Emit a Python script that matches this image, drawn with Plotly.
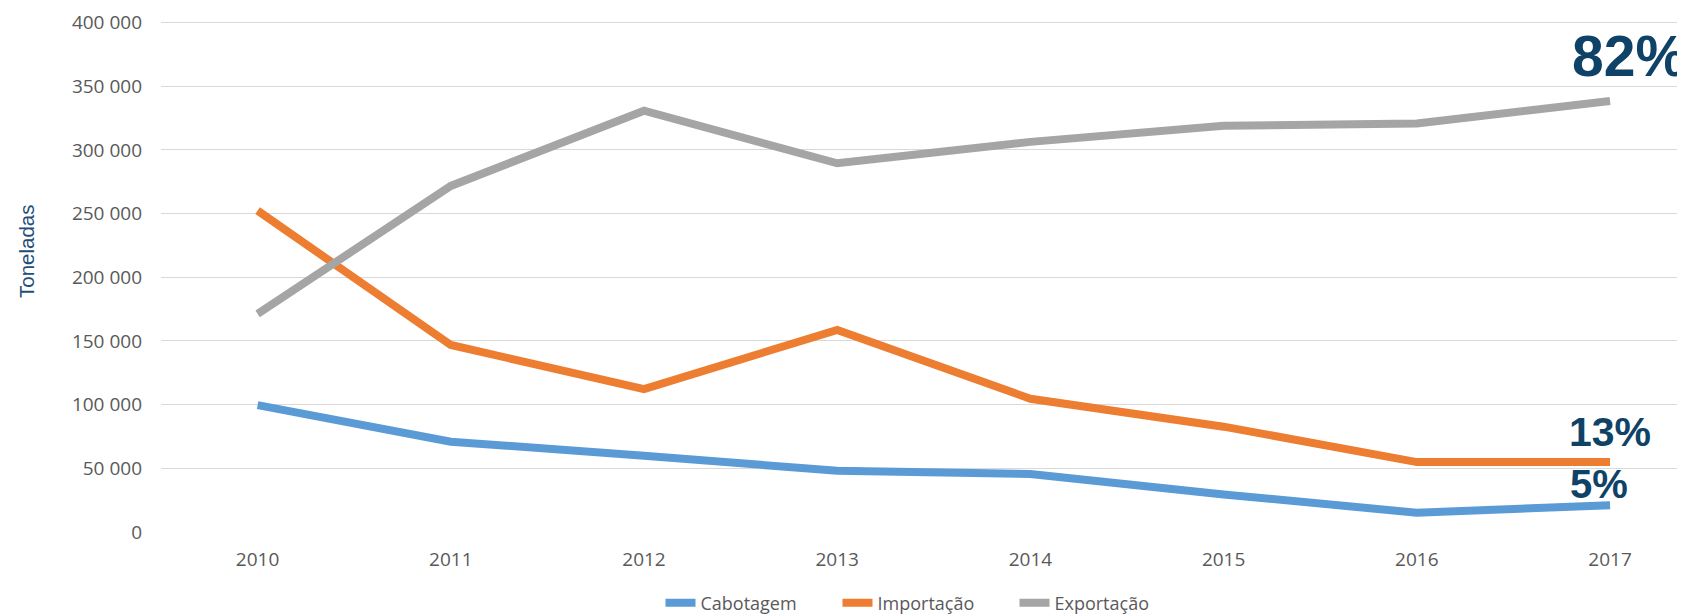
import plotly.graph_objects as go

years = ["2010", "2011", "2012", "2013", "2014", "2015", "2016", "2017"]
cabotagem = [99600, 70900, 59900, 48100, 45600, 29500, 15200, 21100]
importacao = [252300, 146800, 112200, 158700, 104600, 82700, 54900, 54900]
exportacao = [171300, 271700, 330800, 289500, 306300, 319000, 320700, 338400]
series_names = ["Cabotagem", "Importação", "Exportação"]
series_colors = ["#5B9BD5", "#ED7D31", "#A5A5A5"]
share_labels = ["5%", "13%", "82%"]
y_ticks = [0, 50000, 100000, 150000, 200000, 250000, 300000, 350000, 400000]
y_tick_text = ["0", "50 000", "100 000", "150 000", "200 000", "250 000", "300 000", "350 000", "400 000"]

# page body has an 8px margin, so the figure is drawn 8px in from the corner
W, H = 1677, 608
ML, MR, MT, MB = 153, 0, 13, 84

fig = go.Figure()
for name, vals, col in zip(series_names, [cabotagem, importacao, exportacao], series_colors):
    fig.add_trace(go.Scatter(x=years, y=vals, mode="lines", name=name,
                             line=dict(color=col, width=8)))

navy = "#0F4267"
last_idx = len(years) - 1
ann_specs = [
    (share_labels[0], cabotagem[-1], 40, -11, 21),
    (share_labels[1], importacao[-1], 41, 0, 30),
    (share_labels[2], exportacao[-1], 57, 19, 45),
]
for txt, yv, size, dx, dy in ann_specs:
    fig.add_annotation(x=last_idx, y=yv, xref="x", yref="y", text=f"<b>{txt}</b>",
                       showarrow=False, xanchor="center", yanchor="middle",
                       xshift=dx, yshift=dy,
                       font=dict(family="Liberation Sans, Arial", size=size, color=navy))

plot_h = H - MT - MB
plot_w = W - ML - MR
fig.add_annotation(x=(18 - ML) / plot_w, y=(H - MB - 244) / plot_h, xref="paper", yref="paper",
                   text="Toneladas", showarrow=False, textangle=-90,
                   xanchor="center", yanchor="middle",
                   font=dict(family="Liberation Sans, Arial", size=20.5, color="#1F4E79"))

fig.update_layout(
    width=W, height=H,
    margin=dict(l=ML, r=MR, t=MT, b=MB, pad=0, autoexpand=False),
    paper_bgcolor="white", plot_bgcolor="white",
    font=dict(family="Open Sans", size=18, color="#595959"),
    showlegend=True,
    legend=dict(orientation="h", x=(918 - ML) / plot_w, xanchor="center",
                y=-(595 - (H - MB)) / plot_h, yanchor="middle",
                font=dict(family="Open Sans", size=18, color="#595959"),
                entrywidth=132, traceorder="normal"),
)
fig.update_xaxes(type="category", range=[-0.5, 7.388], showgrid=False, showline=False,
                 zeroline=False, ticks="", ticklabelstandoff=14,
                 tickfont=dict(family="Open Sans", size=19, color="#595959"))
fig.update_yaxes(range=[0, 401200], tickvals=y_ticks, ticktext=y_tick_text,
                 showgrid=True, gridcolor="#D9D9D9", gridwidth=1.3, zeroline=False,
                 showline=False, ticks="", ticklabelstandoff=18,
                 tickfont=dict(family="Open Sans", size=19, color="#595959"))

fig.write_html("out.html")
